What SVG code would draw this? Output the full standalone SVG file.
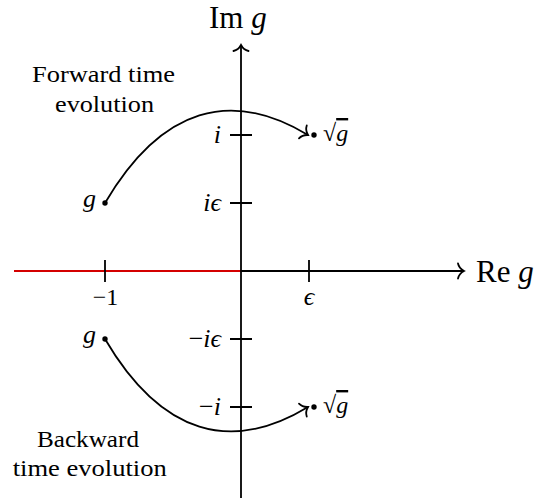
<svg xmlns="http://www.w3.org/2000/svg" width="541" height="498" viewBox="0 0 541 498">
<defs>
<style>
.ln{fill:none;stroke:#000;stroke-width:1.8}
.red{fill:none;stroke:#d40000;stroke-width:2.2}
.t{font-family:"Liberation Serif","Times New Roman",serif;font-size:24px;fill:#000}
.m{font-family:"Liberation Serif","Times New Roman",serif;font-size:26px;font-style:italic;fill:#000}
.up{font-style:normal}
.ax{font-family:"Liberation Serif","Times New Roman",serif;font-size:31px;fill:#000}
</style>
<marker id="to" markerUnits="userSpaceOnUse" markerWidth="20" markerHeight="20" viewBox="-10 -10 20 20" refX="0" refY="0" orient="auto" overflow="visible">
<path d="M-6,-7.5 C-5,-3 -1.5,-0.8 0,0 C-1.5,0.8 -5,3 -6,7.5" fill="none" stroke="#000" stroke-width="1.8" stroke-linecap="round"/>
</marker>
</defs>
<rect width="541" height="498" fill="#fff"/>
<g id="axes">
<path class="ln" d="M14,271 L464,271" marker-end="url(#to)"/>
<path class="red" d="M14,271 L241,271"/>
<path class="ln" d="M241,498 L241,45" marker-end="url(#to)"/>
<text class="ax" x="209" y="28">Im <tspan font-style="italic">g</tspan></text>
<text class="ax" x="476" y="282">Re <tspan font-style="italic">g</tspan></text>
</g>
<g id="ticks">
<path class="ln" d="M230,135 H252 M230,203 H252 M230,339 H252 M230,407 H252 M105,260 V282 M309,260 V282"/>
<text class="m" x="221" y="143" text-anchor="end">i</text>
<text class="m" x="221" y="211" text-anchor="end">iϵ</text>
<text class="m" x="221" y="347" text-anchor="end"><tspan class="up">−</tspan>iϵ</text>
<text class="m" x="221" y="415" text-anchor="end"><tspan class="up">−</tspan>i</text>
<text class="t" x="105.5" y="305" text-anchor="middle">−1</text>
<text class="m" x="309" y="305" text-anchor="middle">ϵ</text>
</g>
<g id="forward">
<circle cx="105" cy="203" r="2.7"/>
<circle cx="314" cy="135" r="2.7"/>
<text class="m" x="96" y="207" text-anchor="end">g</text>
<text class="t" x="323" y="141" font-size="26">√<tspan font-style="italic" text-decoration="overline">g</tspan></text>
<text class="t" x="103.5" y="82" text-anchor="middle" textLength="143" lengthAdjust="spacingAndGlyphs">Forward time</text>
<text class="t" x="104.5" y="112" text-anchor="middle" textLength="99" lengthAdjust="spacingAndGlyphs">evolution</text>
</g>
<g id="backward">
<circle cx="105" cy="339" r="2.7"/>
<circle cx="314" cy="407" r="2.7"/>
<text class="m" x="96" y="343" text-anchor="end">g</text>
<text class="t" x="323" y="413" font-size="26">√<tspan font-style="italic" text-decoration="overline">g</tspan></text>
<text class="t" x="88" y="447" text-anchor="middle" textLength="102" lengthAdjust="spacingAndGlyphs">Backward</text>
<text class="t" x="89.7" y="476" text-anchor="middle" textLength="154" lengthAdjust="spacingAndGlyphs">time evolution</text>
</g>
<g id="connectors">
<path class="ln" d="M105,203 C162,106 232,89 308,135" marker-end="url(#to)"/>
<path class="ln" d="M105,339 C162,436 232,453 308,407" marker-end="url(#to)"/>
</g>
</svg>
